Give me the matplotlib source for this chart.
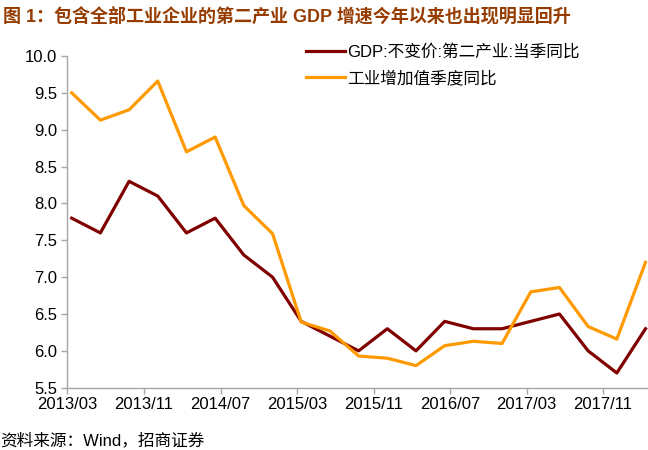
import numpy as np
import matplotlib
matplotlib.use('Agg')
import matplotlib.pyplot as plt

plt.rcParams['font.family'] = ['Liberation Sans', 'Noto Sans CJK SC', 'DejaVu Sans']

# quarterly data, 2013Q1 - 2018Q1
gdp_second = [7.8, 7.6, 8.3, 8.1, 7.6, 7.8, 7.3, 7.0, 6.4, 6.2, 6.0, 6.3, 6.0,
              6.4, 6.3, 6.3, 6.4, 6.5, 6.0, 5.7, 6.3]
ind_value_added = [9.50, 9.13, 9.27, 9.66, 8.70, 8.90, 7.97, 7.59, 6.39, 6.27, 5.93,
                   5.90, 5.80, 6.07, 6.13, 6.10, 6.80, 6.86, 6.33, 6.16, 7.20]
tick_labels = ['2013/03', '2013/11', '2014/07', '2015/03', '2015/11',
               '2016/07', '2017/03', '2017/11']
label1 = 'GDP:不变价:第二产业:当季同比'
label2 = '工业增加值季度同比'

# months since 2013/03, points sit mid-month
x = 0.44 + 3 * np.arange(len(gdp_second))
tick_pos = 8 * np.arange(len(tick_labels))

fig = plt.figure(figsize=(6.48, 4.5), dpi=100)
ax = fig.add_axes([0.1034, 0.1384, 0.8966, 0.7372])

ax.plot(x, gdp_second, color='#800000', lw=2.3, label=label1)
ax.plot(x, ind_value_added, color='#FF9900', lw=2.3, label=label2)

ax.set_xlim(-0.05, 60.7)
ax.set_ylim(5.5, 10.0)
ax.set_yticks(np.arange(5.5, 10.01, 0.5))
ax.set_yticklabels(['%.1f' % v for v in np.arange(5.5, 10.01, 0.5)], fontsize=12)
ax.set_xticks(tick_pos)
ax.set_xticklabels(tick_labels, fontsize=12)

for s in ['top', 'right']:
    ax.spines[s].set_visible(False)
for s in ['left', 'bottom']:
    ax.spines[s].set_color('#A6A6A6')
    ax.spines[s].set_linewidth(1.0)
ax.tick_params(axis='both', color='#A6A6A6', length=4, width=1.0, pad=3)

leg = ax.legend(loc='upper left', bbox_to_anchor=(0.411, 1.036), frameon=False,
                fontsize=12, handlelength=2.35, handletextpad=0.1,
                labelspacing=0.61, borderpad=0, borderaxespad=0)

fig.text(0.004, 0.985, '图 1：包含全部工业企业的第二产业 GDP 增速今年以来也出现明显回升',
         fontsize=13, fontweight='bold', color='#963C00', ha='left', va='top')
fig.text(0.0, 0.022, '资料来源：Wind，招商证券', fontsize=12, color='black',
         ha='left', va='center')

fig.savefig('out.png', dpi=100)
